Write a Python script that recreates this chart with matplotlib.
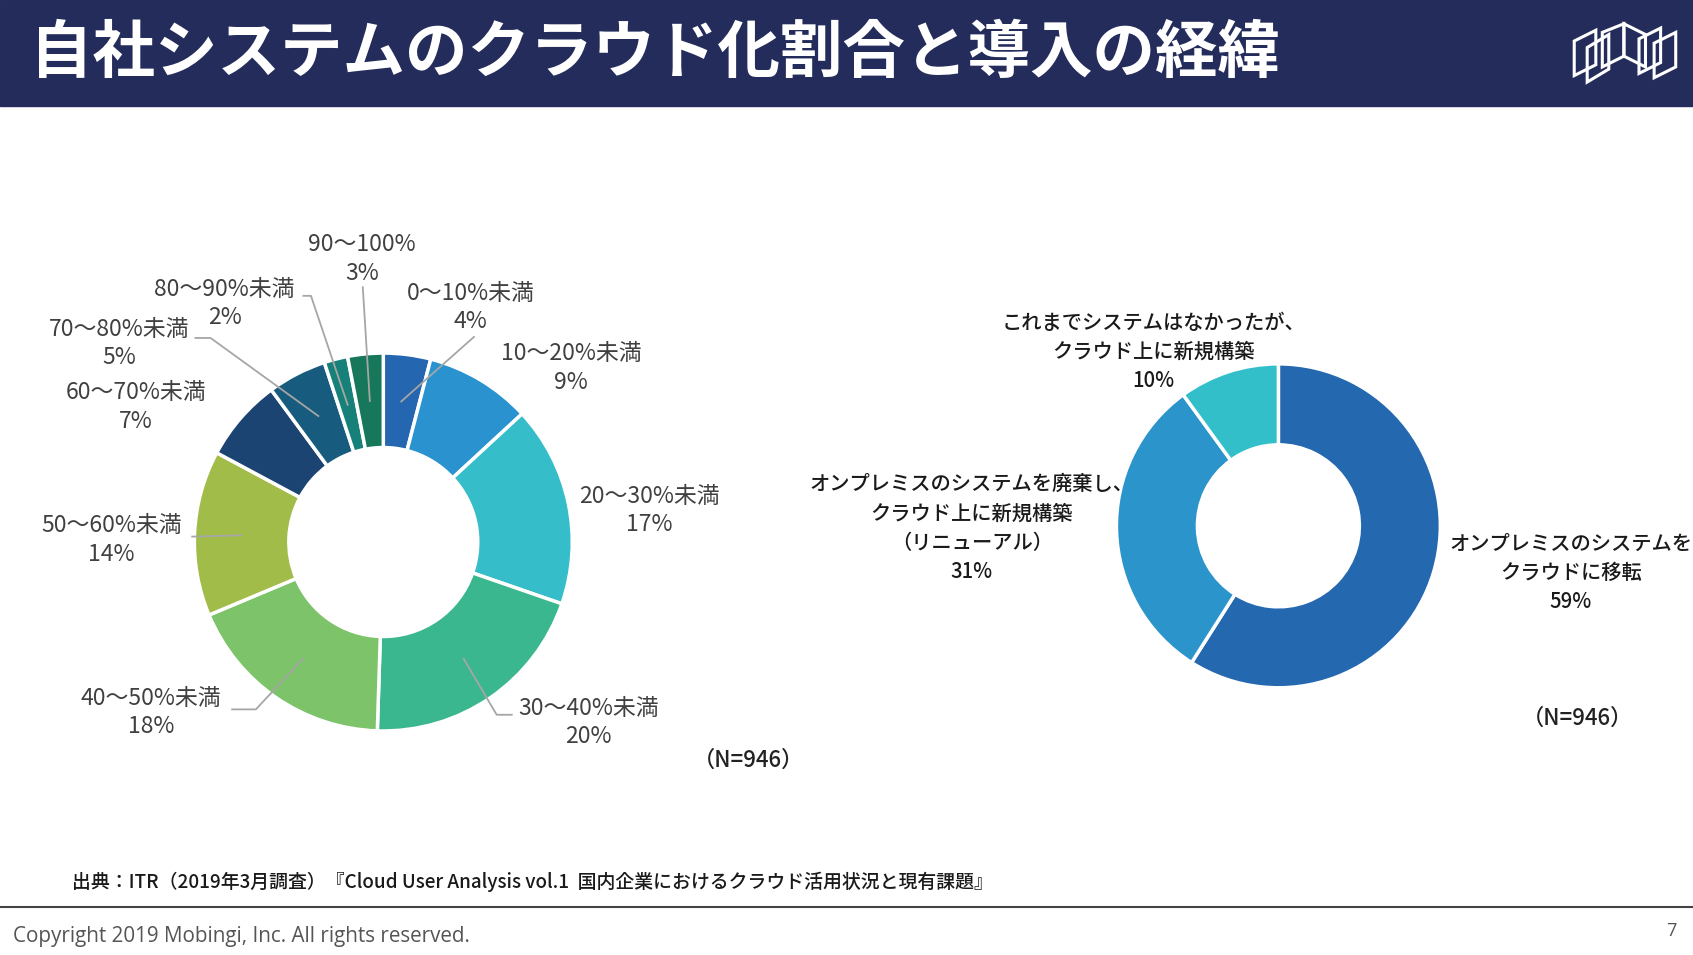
import numpy as np
import matplotlib.pyplot as plt
from matplotlib.patches import Rectangle, Polygon

plt.rcParams['font.family'] = ['Noto Sans CJK JP', 'DejaVu Sans']

# データ
left_labels = ['0～10%未満', '10～20%未満', '20～30%未満', '30～40%未満', '40～50%未満',
               '50～60%未満', '60～70%未満', '70～80%未満', '80～90%未満', '90～100%']
left_values = [4, 9, 17, 20, 18, 14, 7, 5, 2, 3]
left_colors = ['#2566b0', '#2a93cf', '#35bdc9', '#3bb78f', '#7cc36a',
               '#a2bc4a', '#1b4472', '#175c7e', '#168079', '#16775a']

right_labels = ['オンプレミスのシステムを\nクラウドに移転',
                'オンプレミスのシステムを廃棄し、\nクラウド上に新規構築\n（リニューアル）',
                'これまでシステムはなかったが、\nクラウド上に新規構築']
right_values = [59, 31, 10]
right_colors = ['#2468b0', '#2a94cb', '#33bfca']

title = '自社システムのクラウド化割合と導入の経緯'
source = '出典：ITR（2019年3月調査）『Cloud User Analysis vol.1  国内企業におけるクラウド活用状況と現有課題』'
n_text = '（N=946）'

# 1. 図の準備（座標は1568x884基準の画面座標、y上向き）
W, H = 1568, 1568 * 955 / 1693
fig = plt.figure(figsize=(16.93, 9.55), dpi=100)
ax = fig.add_axes([0, 0, 1, 1])


def Y(y):
    return H - y


# 2. ヘッダー
ax.add_patch(Rectangle((0, Y(98)), W, 98, color='#232c5b', zorder=0))
ax.text(28, Y(50), title, color='white', fontsize=45, fontweight='bold',
        va='center', ha='left')

# ロゴ（簡略化）
logo = [
    [(1458, 38), (1478, 28), (1478, 60), (1458, 70)],
    [(1470, 44), (1490, 32), (1490, 64), (1470, 76)],
    [(1484, 30), (1504, 22), (1504, 52), (1484, 62)],
    [(1504, 22), (1524, 32), (1524, 62), (1504, 52)],
    [(1518, 36), (1538, 26), (1538, 58), (1518, 68)],
    [(1532, 40), (1552, 30), (1552, 62), (1532, 72)],
]
for pts in logo:
    ax.add_patch(Polygon([(x, Y(y)) for x, y in pts], closed=True, fill=False,
                         edgecolor='white', linewidth=2.2, zorder=2))

# 3. 左のドーナツ
lc = (355, Y(502))
lr = 175
ax.pie(left_values, colors=left_colors, startangle=90, counterclock=False,
       radius=lr, center=lc, frame=True,
       wedgeprops=dict(width=lr * 0.5, edgecolor='white', linewidth=2.5))

# ラベル位置（レイアウト）
left_pos = [(436, 285), (529, 341), (601, 473), (545, 669), (140, 660),
            (103, 500), (126, 377), (110, 318), (208, 281), (335, 240)]
# 引き出し線の外側端点（レイアウト）
leader_end = {0: [(439, 312)],
              3: [(474, 662), (460, 662)],
              4: [(215, 657), (237, 657)],
              5: [(178, 497)],
              7: [(181, 313), (195, 313)],
              8: [(281, 274), (288, 274)],
              9: [(336, 266)]}

total = sum(left_values)
cum = np.cumsum([0] + left_values)
for i, (lab, v) in enumerate(zip(left_labels, left_values)):
    x, y = left_pos[i]
    ax.text(x, Y(y), f'{lab}\n{v}%', ha='center', va='center', fontsize=16.5,
            color='#404040', linespacing=1.3)
    if i in leader_end:
        mid = (cum[i] + v / 2) / total * 2 * np.pi
        ax_x = lc[0] + 0.75 * lr * np.sin(mid)
        ax_y = lc[1] + 0.75 * lr * np.cos(mid)
        pts = [(px, Y(py)) for px, py in leader_end[i]] + [(ax_x, ax_y)]
        xs, ys = zip(*pts)
        ax.plot(xs, ys, color='#a6a6a6', linewidth=1.3, zorder=5)

ax.text(693, Y(704), n_text, ha='center', va='center', fontsize=16,
        color='#222222', fontweight='medium')

# 4. 右のドーナツ
rc = (1184, Y(487))
rr = 150
ax.pie(right_values, colors=right_colors, startangle=90, counterclock=False,
       radius=rr, center=rc, frame=True,
       wedgeprops=dict(width=rr * 0.5, edgecolor='white', linewidth=2.5))

right_pos = [(1455, 531), (900, 489), (1068, 326)]
for (x, y), lab, v in zip(right_pos, right_labels, right_values):
    ax.text(x, Y(y), f'{lab}\n{v}%', ha='center', va='center', fontsize=14.6,
            color='#1a1a1a', linespacing=1.42, fontweight='medium')

ax.text(1461, Y(665), n_text, ha='center', va='center', fontsize=16,
        color='#222222', fontweight='medium')

# 5. フッター
ax.text(67, Y(817), source, ha='left', va='center', fontsize=13.6,
        color='#1a1a1a', fontweight='medium')
ax.plot([0, W], [Y(840), Y(840)], color='#444444', linewidth=1.5)
ax.text(12, Y(867), 'Copyright 2019 Mobingi, Inc. All rights reserved.',
        ha='left', va='center', fontsize=14.9, color='#555555', family='Open Sans')
ax.text(1553, Y(862), '7', ha='right', va='center', fontsize=13,
        color='#555555', family='Open Sans')

ax.set_xlim(0, W)
ax.set_ylim(0, H)
ax.set_aspect('auto')
ax.axis('off')

fig.savefig('out.png', dpi=100)
